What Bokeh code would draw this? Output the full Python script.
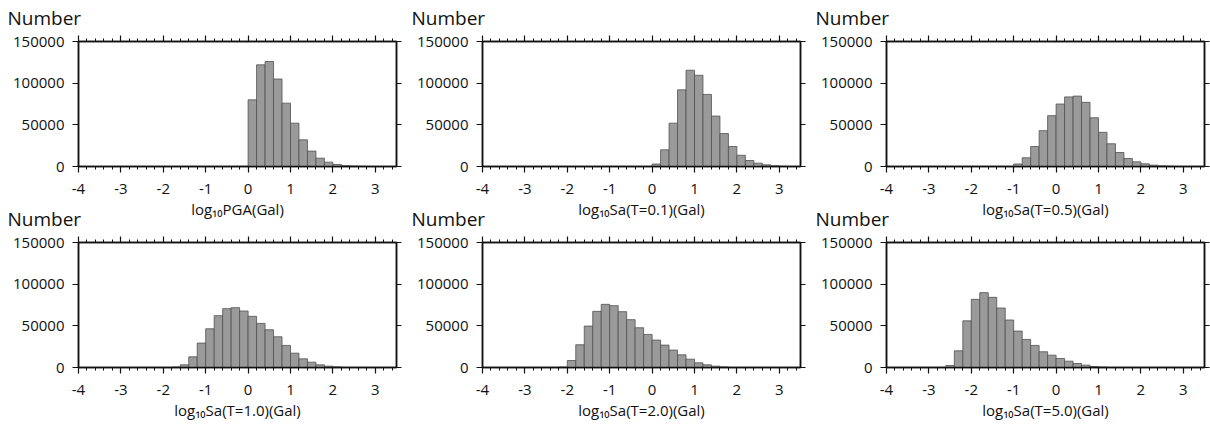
from bokeh.plotting import figure
from bokeh.models import (Range1d, FixedTicker, LinearAxis,
                          BasicTickFormatter, CustomJSTickFormatter, ColumnDataSource)
from bokeh.layouts import row, column
from bokeh.embed import file_html
from bokeh.resources import INLINE

# ---------------- data ----------------
bin_width = 0.2
x_major_ticks = [-4, -3, -2, -1, 0, 1, 2, 3]
y_major_ticks = [0, 50000, 100000, 150000]
x_min, x_max = -4.0, 3.5
y_min, y_max = 0, 150000
y_title = "Number"

axis_titles = [
    "log₁₀PGA(Gal)",
    "log₁₀Sa(T=0.1)(Gal)",
    "log₁₀Sa(T=0.5)(Gal)",
    "log₁₀Sa(T=1.0)(Gal)",
    "log₁₀Sa(T=2.0)(Gal)",
    "log₁₀Sa(T=5.0)(Gal)",
]

# left edge of first bin, then counts of successive 0.2-wide bins
pga_first_edge = 0.0
pga_counts = [80000, 122000, 126000, 105000, 76000, 52000, 32000, 18500,
              10000, 5200, 2400, 1000, 400, 150]

sa01_first_edge = 0.0
sa01_counts = [3000, 20000, 52000, 92000, 115500, 109500, 86500, 60500,
               39500, 24000, 13500, 7200, 4000, 2000, 800, 300]

sa05_first_edge = -1.0
sa05_counts = [3000, 10500, 24000, 43000, 61000, 75000, 83500, 84500, 77000,
               58500, 41000, 27300, 16800, 9600, 5600, 3200, 1600, 700, 300]

sa10_first_edge = -1.8
sa10_counts = [500, 3200, 12800, 29300, 46500, 62200, 70600, 71800, 67800,
               61400, 52900, 45300, 36900, 26500, 17200, 10400, 6400, 3200,
               1600, 700]

sa20_first_edge = -2.2
sa20_counts = [500, 8400, 27300, 49700, 67400, 75800, 74200, 67000, 57400,
               47700, 39700, 32900, 26900, 20900, 15200, 10000, 5600, 3200,
               1600, 700]

sa50_first_edge = -2.6
sa50_counts = [2400, 20000, 56000, 81800, 89800, 84200, 71400, 57000, 43700,
               33700, 26500, 18900, 14800, 10800, 7600, 4800, 2800, 1200, 500]

series = [
    (pga_first_edge, pga_counts),
    (sa01_first_edge, sa01_counts),
    (sa05_first_edge, sa05_counts),
    (sa10_first_edge, sa10_counts),
    (sa20_first_edge, sa20_counts),
    (sa50_first_edge, sa50_counts),
]

# ---------------- style ----------------
FONT = "Open Sans"
BAR_FILL = "#9a9a9a"
BAR_LINE = "#505050"
INK = "#111111"

minor_ticks = [round(x_min + i * bin_width, 6)
               for i in range(int(round((x_max - x_min) / bin_width)) + 1)]


def empty_fmt():
    return CustomJSTickFormatter(code="return ''")


def make_panel(idx, first_edge, counts, right_border, bottom_border):
    p = figure(x_range=Range1d(x_min, x_max), y_range=Range1d(y_min, y_max),
               frame_width=318, frame_height=125,
               min_border_left=78, min_border_right=right_border,
               min_border_top=30, min_border_bottom=bottom_border,
               toolbar_location=None, output_backend="svg",
               background_fill_color="white", border_fill_color=None,
               outline_line_color=INK, outline_line_width=1.5,
               title=y_title)
    p.xgrid.visible = False
    p.ygrid.visible = False

    p.title.align = "left"
    p.title.offset = -71
    p.title.text_font = FONT
    p.title.text_font_size = "19px"
    p.title.text_font_style = "normal"
    p.title.text_color = INK
    p.title.standoff = 10

    lefts = [first_edge + i * bin_width for i in range(len(counts))]
    rights = [l + bin_width for l in lefts]
    src = ColumnDataSource(dict(left=lefts, right=rights, top=counts,
                                bottom=[0] * len(counts)))
    p.quad(left="left", right="right", top="top", bottom="bottom", source=src,
           fill_color=BAR_FILL, line_color=BAR_LINE, line_width=0.8)

    xt = FixedTicker(ticks=x_major_ticks, minor_ticks=minor_ticks)
    yt = FixedTicker(ticks=y_major_ticks, minor_ticks=[])

    xa = p.xaxis[0]
    xa.ticker = xt
    xa.formatter = CustomJSTickFormatter(code="return tick.toFixed(0)")
    xa.axis_label = axis_titles[idx]
    xa.axis_label_text_font = FONT
    xa.axis_label_text_font_size = "15px"
    xa.axis_label_text_font_style = "normal"
    xa.axis_label_text_color = INK
    xa.axis_label_standoff = 2
    xa.major_label_text_font = FONT
    xa.major_label_text_font_size = "15px"
    xa.major_label_text_color = INK
    xa.major_label_standoff = 11
    xa.axis_line_width = 1.5
    xa.axis_line_color = INK
    xa.major_tick_in = 0
    xa.major_tick_out = 6
    xa.minor_tick_in = 0
    xa.minor_tick_out = 3
    xa.major_tick_line_color = INK
    xa.minor_tick_line_color = INK
    xa.major_tick_line_width = 1.2
    xa.minor_tick_line_width = 1.0

    ya = p.yaxis[0]
    ya.ticker = yt
    ya.formatter = BasicTickFormatter(use_scientific=False)
    ya.major_label_text_font = FONT
    ya.major_label_text_font_size = "15px"
    ya.major_label_text_color = INK
    ya.major_label_standoff = 8
    ya.axis_line_width = 1.5
    ya.axis_line_color = INK
    ya.major_tick_in = 0
    ya.major_tick_out = 6
    ya.major_tick_line_color = INK
    ya.major_tick_line_width = 1.2

    top_ax = LinearAxis(ticker=xt, formatter=empty_fmt(),
                        major_tick_in=0, major_tick_out=6,
                        minor_tick_in=0, minor_tick_out=3,
                        axis_line_width=1.5, axis_line_color=INK,
                        major_tick_line_color=INK, minor_tick_line_color=INK,
                        major_tick_line_width=1.2, minor_tick_line_width=1.0,
                        major_label_standoff=0, major_label_text_font_size="1px")
    p.add_layout(top_ax, "above")

    right_ax = LinearAxis(ticker=yt, formatter=empty_fmt(),
                          major_tick_in=0, major_tick_out=5,
                          axis_line_width=1.5, axis_line_color=INK,
                          major_tick_line_color=INK, major_tick_line_width=1.2,
                          major_label_standoff=0, major_label_text_font_size="1px")
    p.add_layout(right_ax, "right")
    return p


panels = []
for i, (fe, c) in enumerate(series):
    r = i // 3
    col = i % 3
    right_border = 8 if col < 2 else 6
    bottom_border = 66 if r == 0 else 55
    panels.append(make_panel(i, fe, c, right_border, bottom_border))

row1 = row(*panels[:3])
row2 = row(*panels[3:], styles={"margin-top": "-34px"})
layout = column(row1, row2, styles={"margin-top": "-3px"})

with open("out.html", "w") as f:
    f.write(file_html(layout, INLINE))
